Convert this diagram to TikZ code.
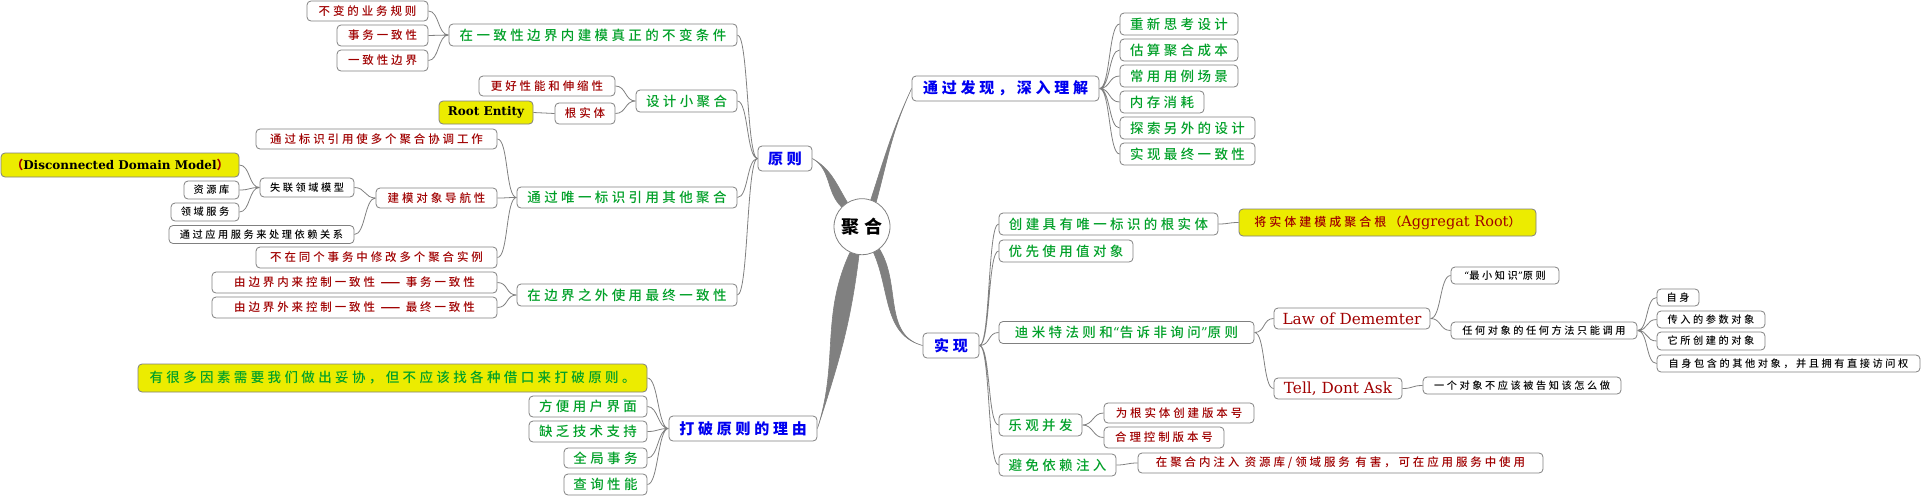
\documentclass[tikz,border=0pt]{standalone}
\usepackage{fontspec}
\usepackage{xcolor}
\usepackage{tikz}
\usetikzlibrary{calc}
\usetikzlibrary{backgrounds}
\newfontfamily\cjk[LetterSpace=25]{Noto Sans CJK SC}
\newfontfamily\cjkm[LetterSpace=25]{Noto Sans CJK SC Medium}
\newfontfamily\lat{DejaVu Serif}
\definecolor{lineg}{RGB}{128,128,128}
\definecolor{hiyellow}{RGB}{236,236,0}
\definecolor{tblue}{RGB}{0,0,240}
\definecolor{tgreen}{RGB}{0,160,40}
\definecolor{tred}{RGB}{160,0,0}
\tikzset{
  topic/.style={draw=lineg, line width=0.8pt, rounded corners=4pt, fill=white, inner sep=0pt},
  lvlone/.style={topic, text=tblue, minimum height=25pt, font=\cjk\bfseries\fontsize{15pt}{18pt}\selectfont},
  lvltwo/.style={topic, text=tgreen, minimum height=22pt, font=\cjkm\fontsize{13.5pt}{16pt}\selectfont},
  lvlthree/.style={topic, text=tred, minimum height=21pt, font=\cjkm\fontsize{11.5pt}{14pt}\selectfont},
  lvlfour/.style={topic, text=black, minimum height=17pt, font=\cjkm\fontsize{10.2pt}{12pt}\selectfont},
  latin/.style={font=\lat\fontsize{15.3pt}{18pt}\selectfont},
  callout/.style={fill=hiyellow},
  conn/.style={draw=lineg, line width=0.8pt},
  rbranch/.style={to path={.. controls +(11,0) and +(-11,0) .. (\tikztotarget)}},
  lbranch/.style={to path={.. controls +(-11,0) and +(11,0) .. (\tikztotarget)}},
  trunk/.style={fill=lineg, draw=lineg, line width=0.6pt}
}

\begin{document}
\begin{tikzpicture}[x=1pt,y=1pt]
\useasboundingbox (0,0) rectangle (1921,-496);

\node[circle, draw=lineg, line width=0.8pt, fill=white, minimum size=56pt, inner sep=0pt,
      font=\cjk\bfseries\fontsize{18pt}{20pt}\selectfont] (root) at (862,-226.7) {聚合};

\node[lvlone, minimum width=54pt]  (principle) at (785,-158.5)   {原则};
\node[lvlone, minimum width=187pt] (discover)  at (1005.5,-88.5) {通过发现，深入理解};
\node[lvlone, minimum width=56pt]  (implement) at (951,-345.5)   {实现};
\node[lvlone, minimum width=148pt] (breaking)  at (743,-428.5)   {打破原则的理由};

% 原则
\node[lvltwo, minimum width=288pt] (invariant) at (593,-35) {在一致性边界内建模真正的不变条件};
\node[lvlthree, minimum width=121pt, minimum height=20pt] (rules) at (367.5,-11) {不变的业务规则};
\node[lvlthree, minimum width=91pt] (txcons) at (382.5,-35.5) {事务一致性};
\node[lvlthree, minimum width=91pt] (consbound) at (382.5,-60.5) {一致性边界};
\node[lvltwo, minimum width=101pt] (small) at (686.5,-101) {设计小聚合};
\node[lvlthree, minimum width=136pt, minimum height=20pt] (perf) at (547,-86) {更好性能和伸缩性};
\node[lvlthree, minimum width=60pt] (rootent) at (585,-113.5) {根实体};
\node[topic, callout, minimum width=94pt, minimum height=23pt,
      font=\lat\bfseries\fontsize{12pt}{14pt}\selectfont] (rootentity) at (486,-112.5) {Root Entity};
\node[lvltwo, minimum width=220pt, minimum height=21pt] (byid) at (627,-197.5) {通过唯一标识引用其他聚合};
\node[lvlthree, minimum width=241pt, minimum height=20pt] (coord) at (376.5,-139) {通过标识引用使多个聚合协调工作};
\node[lvlthree, minimum width=121pt, minimum height=20pt] (navig) at (436.5,-198) {建模对象导航性};
\node[lvlfour, minimum width=94pt, minimum height=19pt] (disconn) at (307,-187.5) {失联领域模型};
\node[topic, callout, minimum width=238pt, minimum height=24pt,
      font=\lat\bfseries\fontsize{12pt}{14pt}\selectfont] (ddm) at (120,-165)
      {{\cjk\color{tred}（}Disconnected Domain Model{\cjk\color{tred}）}};
\node[lvlfour, minimum width=55pt, minimum height=18pt] (repo) at (211.5,-190) {资源库};
\node[lvlfour, minimum width=68pt, minimum height=18pt] (domsvc) at (205,-212) {领域服务};
\node[lvlfour, minimum width=185pt, minimum height=18pt] (appsvc) at (261.5,-234.5) {通过应用服务来处理依赖关系};
\node[lvlthree, minimum width=241pt] (multi) at (376.5,-257.5) {不在同个事务中修改多个聚合实例};
\node[lvltwo, minimum width=220pt] (eventual) at (627,-295) {在边界之外使用最终一致性};
\node[lvlthree, minimum width=285pt] (inside) at (354.5,-282.5) {由边界内来控制一致性 {\bfseries——} 事务一致性};
\node[lvlthree, minimum width=285pt] (outside) at (354.5,-307.5) {由边界外来控制一致性 {\bfseries——} 最终一致性};

% 打破原则的理由
\node[lvltwo, callout, minimum width=509pt, minimum height=28pt] (compromise) at (392.5,-378)
      {有很多因素需要我们做出妥协，但不应该找各种借口来打破原则。};
\node[lvltwo, minimum width=118pt, minimum height=21pt] (ui) at (588,-406.5) {方便用户界面};
\node[lvltwo, minimum width=118pt, minimum height=21pt] (tech) at (588,-431.5) {缺乏技术支持};
\node[lvltwo, minimum width=83pt, minimum height=20pt] (global) at (605.5,-458) {全局事务};
\node[lvltwo, minimum width=83pt, minimum height=21pt] (query) at (605.5,-484.5) {查询性能};

% 通过发现，深入理解
\node[lvltwo, minimum width=118pt] (rethink) at (1179,-24) {重新思考设计};
\node[lvltwo, minimum width=118pt] (cost) at (1179,-50) {估算聚合成本};
\node[lvltwo, minimum width=118pt] (usecase) at (1179,-76) {常用用例场景};
\node[lvltwo, minimum width=84pt] (memory) at (1162,-102) {内存消耗};
\node[lvltwo, minimum width=135pt] (explore) at (1187.5,-128) {探索另外的设计};
\node[lvltwo, minimum width=135pt] (finalc) at (1187.5,-154) {实现最终一致性};

% 实现
\node[lvltwo, minimum width=219pt] (uniqueid) at (1108.5,-224) {创建具有唯一标识的根实体};
\node[lvlthree, callout, minimum width=297pt, minimum height=27pt,
      font=\cjkm\fontsize{12pt}{14pt}\selectfont] (aggroot) at (1387.5,-222.5)
      {将实体建模成聚合根（{\lat\fontsize{14.5pt}{17pt}\selectfont Aggregat Root}）};
\node[lvltwo, minimum width=134pt] (valueobj) at (1066,-251) {优先使用值对象};
\node[lvltwo, minimum width=255pt] (demeter) at (1126.5,-332.5) {迪米特法则和{\lat “}告诉非询问{\lat ”}原则};
\node[lvlthree, latin, minimum width=156pt] (lawdem) at (1352,-318.5) {Law of Dememter};
\node[lvlfour, minimum width=108pt] (leastk) at (1505,-275.5) {{\lat “}最小知识{\lat ”}原则};
\node[lvlfour, minimum width=186pt] (anymeth) at (1544,-330.5) {任何对象的任何方法只能调用};
\node[lvlfour, minimum width=42pt] (self) at (1678,-297.5) {自身};
\node[lvlfour, minimum width=108pt] (params) at (1711,-319.5) {传入的参数对象};
\node[lvlfour, minimum width=108pt, minimum height=18pt] (created) at (1711,-341) {它所创建的对象};
\node[lvlfour, minimum width=263pt] (owned) at (1788.5,-363.5) {自身包含的其他对象，并且拥有直接访问权};
\node[lvlthree, latin, minimum width=128pt] (tell) at (1338,-388.5) {Tell, Dont Ask};
\node[lvlfour, minimum width=198pt] (tellnote) at (1522,-385.5) {一个对象不应该被告知该怎么做};
\node[lvltwo, minimum width=83pt] (optim) at (1040.5,-425) {乐观并发};
\node[lvlthree, minimum width=150pt, minimum height=20pt] (version) at (1179,-413) {为根实体创建版本号};
\node[lvlthree, minimum width=120pt] (versionctl) at (1164,-437.5) {合理控制版本号};
\node[lvltwo, minimum width=117pt] (noinject) at (1057.5,-465) {避免依赖注入};
\node[lvlthree, minimum width=405pt, minimum height=20pt] (injectnote) at (1340.5,-463)
      {在聚合内注入 资源库/领域服务 有害，可在应用服务中使用};

\begin{scope}[on background layer]
  % main branches
  \filldraw[trunk] (root.121) to[out=121,in=-30] (principle.east) to[out=-30,in=136] (root.136) -- cycle;
  \filldraw[trunk] (root.60) to[out=75,in=-115] (discover.west) to[out=-115,in=72] (root.72) -- cycle;
  \filldraw[trunk] (root.-52) to[out=-58,in=165] (implement.west) to[out=165,in=-66] (root.-66) -- cycle;
  \filldraw[trunk] (root.-96) to[out=-97,in=72] (breaking.east) to[out=72,in=-115] (root.-115) -- cycle;

  \draw[conn] (principle.west) to[lbranch] (invariant.east)
              (principle.west) to[lbranch] (small.east)
              (principle.west) to[lbranch] (byid.east)
              (principle.west) to[lbranch] (eventual.east);
  \draw[conn] (invariant.west) to[lbranch] (rules.east)
              (invariant.west) to[lbranch] (txcons.east)
              (invariant.west) to[lbranch] (consbound.east);
  \draw[conn] (small.west) to[lbranch] (perf.east)
              (small.west) to[lbranch] (rootent.east);
  \draw[conn] (rootent.west) to[lbranch] (rootentity.east);
  \draw[conn] (byid.west) to[lbranch] (coord.east)
              (byid.west) to[lbranch] (navig.east)
              (byid.west) to[lbranch] (multi.east);
  \draw[conn] (navig.west) to[lbranch] (disconn.east)
              (navig.west) to[lbranch] (appsvc.east);
  \draw[conn] (disconn.west) to[lbranch] (ddm.east)
              (disconn.west) to[lbranch] (repo.east)
              (disconn.west) to[lbranch] (domsvc.east);
  \draw[conn] (eventual.west) to[lbranch] (inside.east)
              (eventual.west) to[lbranch] (outside.east);

  \draw[conn] (breaking.west) to[lbranch] (compromise.east)
              (breaking.west) to[lbranch] (ui.east)
              (breaking.west) to[lbranch] (tech.east)
              (breaking.west) to[lbranch] (global.east)
              (breaking.west) to[lbranch] (query.east);

  \draw[conn] (discover.east) to[rbranch] (rethink.west)
              (discover.east) to[rbranch] (cost.west)
              (discover.east) to[rbranch] (usecase.west)
              (discover.east) to[rbranch] (memory.west)
              (discover.east) to[rbranch] (explore.west)
              (discover.east) to[rbranch] (finalc.west);

  \draw[conn] (implement.east) to[rbranch] (uniqueid.west)
              (implement.east) to[rbranch] (valueobj.west)
              (implement.east) to[rbranch] (demeter.west)
              (implement.east) to[rbranch] (optim.west)
              (implement.east) to[rbranch] (noinject.west);
  \draw[conn] (uniqueid.east) to[rbranch] (aggroot.west);
  \draw[conn] (demeter.east) to[rbranch] (lawdem.west)
              (demeter.east) to[rbranch] (tell.west);
  \draw[conn] (lawdem.east) to[rbranch] (leastk.west)
              (lawdem.east) to[rbranch] (anymeth.west);
  \draw[conn] (anymeth.east) to[rbranch] (self.west)
              (anymeth.east) to[rbranch] (params.west)
              (anymeth.east) to[rbranch] (created.west)
              (anymeth.east) to[rbranch] (owned.west);
  \draw[conn] (tell.east) to[rbranch] (tellnote.west);
  \draw[conn] (optim.east) to[rbranch] (version.west)
              (optim.east) to[rbranch] (versionctl.west);
  \draw[conn] (noinject.east) to[rbranch] (injectnote.west);
\end{scope}
\end{tikzpicture}
\end{document}
